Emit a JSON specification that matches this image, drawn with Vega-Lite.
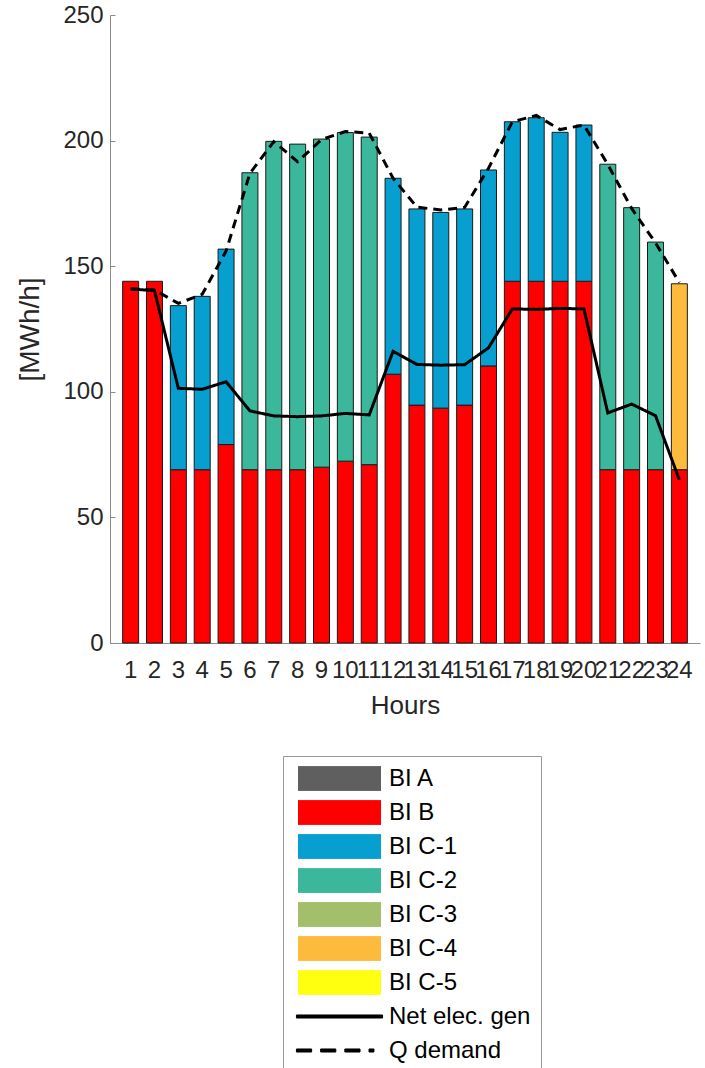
{
  "$schema": "https://vega.github.io/schema/vega-lite/v6.json",
  "width": 590,
  "height": 628,
  "autosize": {"type": "none"},
  "padding": {"left": 110, "top": 15, "right": 5, "bottom": 425},
  "background": "white",
  "config": {"font": "Liberation Sans", "view": {"stroke": null}},
  "resolve": {"legend": {"color": "independent"}},
  "datasets": {
    "bars": [
      {"hour": 1, "series": "BI B", "value": 144},
      {"hour": 2, "series": "BI B", "value": 144},
      {"hour": 3, "series": "BI B", "value": 69}, {"hour": 3, "series": "BI C-1", "value": 65.3},
      {"hour": 4, "series": "BI B", "value": 69}, {"hour": 4, "series": "BI C-1", "value": 69},
      {"hour": 5, "series": "BI B", "value": 79}, {"hour": 5, "series": "BI C-1", "value": 77.8},
      {"hour": 6, "series": "BI B", "value": 69}, {"hour": 6, "series": "BI C-2", "value": 118.2},
      {"hour": 7, "series": "BI B", "value": 69}, {"hour": 7, "series": "BI C-2", "value": 130.7},
      {"hour": 8, "series": "BI B", "value": 69}, {"hour": 8, "series": "BI C-2", "value": 129.6},
      {"hour": 9, "series": "BI B", "value": 70}, {"hour": 9, "series": "BI C-2", "value": 130.6},
      {"hour": 10, "series": "BI B", "value": 72.4}, {"hour": 10, "series": "BI C-2", "value": 130.8},
      {"hour": 11, "series": "BI B", "value": 71}, {"hour": 11, "series": "BI C-2", "value": 130.4},
      {"hour": 12, "series": "BI B", "value": 107}, {"hour": 12, "series": "BI C-1", "value": 78},
      {"hour": 13, "series": "BI B", "value": 94.7}, {"hour": 13, "series": "BI C-1", "value": 78.1},
      {"hour": 14, "series": "BI B", "value": 93.5}, {"hour": 14, "series": "BI C-1", "value": 77.9},
      {"hour": 15, "series": "BI B", "value": 94.7}, {"hour": 15, "series": "BI C-1", "value": 78.1},
      {"hour": 16, "series": "BI B", "value": 110.3}, {"hour": 16, "series": "BI C-1", "value": 78},
      {"hour": 17, "series": "BI B", "value": 144}, {"hour": 17, "series": "BI C-1", "value": 63.5},
      {"hour": 18, "series": "BI B", "value": 144}, {"hour": 18, "series": "BI C-1", "value": 65.1},
      {"hour": 19, "series": "BI B", "value": 144}, {"hour": 19, "series": "BI C-1", "value": 59.3},
      {"hour": 20, "series": "BI B", "value": 144}, {"hour": 20, "series": "BI C-1", "value": 62.2},
      {"hour": 21, "series": "BI B", "value": 69}, {"hour": 21, "series": "BI C-2", "value": 121.6},
      {"hour": 22, "series": "BI B", "value": 69}, {"hour": 22, "series": "BI C-2", "value": 104.3},
      {"hour": 23, "series": "BI B", "value": 69}, {"hour": 23, "series": "BI C-2", "value": 90.6},
      {"hour": 24, "series": "BI B", "value": 69}, {"hour": 24, "series": "BI C-4", "value": 74}
    ],
    "lines": [
      {"hour": 1, "series": "Net elec. gen", "value": 140.9},
      {"hour": 2, "series": "Net elec. gen", "value": 140.3},
      {"hour": 3, "series": "Net elec. gen", "value": 101.4},
      {"hour": 4, "series": "Net elec. gen", "value": 101},
      {"hour": 5, "series": "Net elec. gen", "value": 104},
      {"hour": 6, "series": "Net elec. gen", "value": 92.4},
      {"hour": 7, "series": "Net elec. gen", "value": 90.4},
      {"hour": 8, "series": "Net elec. gen", "value": 90.1},
      {"hour": 9, "series": "Net elec. gen", "value": 90.4},
      {"hour": 10, "series": "Net elec. gen", "value": 91.4},
      {"hour": 11, "series": "Net elec. gen", "value": 90.8},
      {"hour": 12, "series": "Net elec. gen", "value": 116.1},
      {"hour": 13, "series": "Net elec. gen", "value": 110.9},
      {"hour": 14, "series": "Net elec. gen", "value": 110.6},
      {"hour": 15, "series": "Net elec. gen", "value": 110.8},
      {"hour": 16, "series": "Net elec. gen", "value": 117.5},
      {"hour": 17, "series": "Net elec. gen", "value": 133},
      {"hour": 18, "series": "Net elec. gen", "value": 132.8},
      {"hour": 19, "series": "Net elec. gen", "value": 133.2},
      {"hour": 20, "series": "Net elec. gen", "value": 133},
      {"hour": 21, "series": "Net elec. gen", "value": 91.6},
      {"hour": 22, "series": "Net elec. gen", "value": 95.1},
      {"hour": 23, "series": "Net elec. gen", "value": 90.5},
      {"hour": 24, "series": "Net elec. gen", "value": 65},
      {"hour": 1, "series": "Q demand", "value": 141},
      {"hour": 2, "series": "Q demand", "value": 140.5},
      {"hour": 3, "series": "Q demand", "value": 135.2},
      {"hour": 4, "series": "Q demand", "value": 138.8},
      {"hour": 5, "series": "Q demand", "value": 156},
      {"hour": 6, "series": "Q demand", "value": 187},
      {"hour": 7, "series": "Q demand", "value": 199.6},
      {"hour": 8, "series": "Q demand", "value": 191.6},
      {"hour": 9, "series": "Q demand", "value": 200.4},
      {"hour": 10, "series": "Q demand", "value": 203.6},
      {"hour": 11, "series": "Q demand", "value": 203},
      {"hour": 12, "series": "Q demand", "value": 185},
      {"hour": 13, "series": "Q demand", "value": 173.5},
      {"hour": 14, "series": "Q demand", "value": 172.4},
      {"hour": 15, "series": "Q demand", "value": 173.4},
      {"hour": 16, "series": "Q demand", "value": 189},
      {"hour": 17, "series": "Q demand", "value": 207.5},
      {"hour": 18, "series": "Q demand", "value": 210},
      {"hour": 19, "series": "Q demand", "value": 204.4},
      {"hour": 20, "series": "Q demand", "value": 206.2},
      {"hour": 21, "series": "Q demand", "value": 190.5},
      {"hour": 22, "series": "Q demand", "value": 173},
      {"hour": 23, "series": "Q demand", "value": 159.3},
      {"hour": 24, "series": "Q demand", "value": 143.5}
    ]
  },
  "layer": [
    {
      "data": {"name": "bars"},
      "mark": {"type": "bar", "stroke": "#1a1a1a", "strokeWidth": 1},
      "encoding": {
        "x": {
          "field": "hour", "type": "ordinal", "title": "Hours",
          "scale": {"domain": [1,2,3,4,5,6,7,8,9,10,11,12,13,14,15,16,17,18,19,20,21,22,23,24], "paddingInner": 0.33, "paddingOuter": 0.53},
          "axis": {
            "labelAngle": 0, "labelFontSize": 24, "labelColor": "#262626", "labelOverlap": false, "labelBound": false, "labelFlush": false,
            "titleFontSize": 26, "titleFontWeight": "normal", "titleColor": "#262626", "titlePadding": 10,
            "domainColor": "#8c8c8c", "tickColor": "#8c8c8c", "tickSize": -5, "labelPadding": 20
          }
        },
        "y": {
          "field": "value", "type": "quantitative", "stack": "zero", "title": "[MWh/h]",
          "scale": {"domain": [0, 250], "nice": false},
          "axis": {
            "values": [0, 50, 100, 150, 200, 250], "grid": false,
            "labelFontSize": 24, "labelColor": "#262626", "labelPadding": 12,
            "titleFontSize": 28, "titleFontWeight": "normal", "titleColor": "#262626", "titlePadding": 18,
            "domainColor": "#8c8c8c", "tickColor": "#8c8c8c", "tickSize": -5
          }
        },
        "color": {
          "field": "series", "type": "nominal",
          "scale": {
            "domain": ["BI A", "BI B", "BI C-1", "BI C-2", "BI C-3", "BI C-4", "BI C-5", "Net elec. gen", "Q demand"],
            "range": ["#5f5f5f", "#ff0000", "#079fd0", "#3bb89b", "#a3bf6b", "#fdbb3e", "#ffff10", "#000000", "#000000"]
          },
          "legend": null
        },
        "order": {"field": "series", "sort": "ascending"}
      }
    },
    {
      "data": {"name": "lines"},
      "mark": {"type": "line", "strokeWidth": 3},
      "encoding": {
        "x": {"field": "hour", "type": "ordinal", "title": "Hours"},
        "y": {"field": "value", "type": "quantitative", "title": "[MWh/h]"},
        "color": {
          "field": "series", "type": "nominal",
          "legend": {
            "orient": "none", "legendX": 173, "legendY": 741, "title": null, "direction": "vertical",
            "labelFontSize": 24, "labelColor": "#000000", "labelFont": "Liberation Sans",
            "symbolSize": 6724, "symbolType": "M-1,-0.3H1V0.3H-1Z", "symbolStrokeWidth": 1,
            "clipHeight": 25, "rowPadding": 9, "labelOffset": 8, "padding": 10, "symbolOffset": 5,
            "strokeColor": "#999999", "fillColor": "white",
            "encode": {
              "symbols": {
                "update": {
                  "shape": {"signal": "datum.value === 'Net elec. gen' ? 'M-1.05,-0.037H1.05V0.037H-1.05Z' : datum.value === 'Q demand' ? 'M-1.05,-0.037H-0.68V0.037H-1.05Z M-0.46,-0.037H-0.09V0.037H-0.46Z M0.13,-0.037H0.5V0.037H0.13Z M0.72,-0.037H0.84V0.037H0.72Z' : 'M-1,-0.3H1V0.3H-1Z'"},
                  "fill": {"signal": "scale('color', datum.value)"},
                  "stroke": {"signal": "(datum.value === 'Net elec. gen' || datum.value === 'Q demand') ? 'transparent' : '#333333'"},
                  "strokeWidth": {"value": 1},
                  "opacity": {"value": 1}
                }
              }
            }
          }
        },
        "strokeDash": {
          "field": "series", "type": "nominal", "legend": null,
          "scale": {"domain": ["Net elec. gen", "Q demand"], "range": [[1, 0], [9, 6]]}
        }
      }
    }
  ]
}
